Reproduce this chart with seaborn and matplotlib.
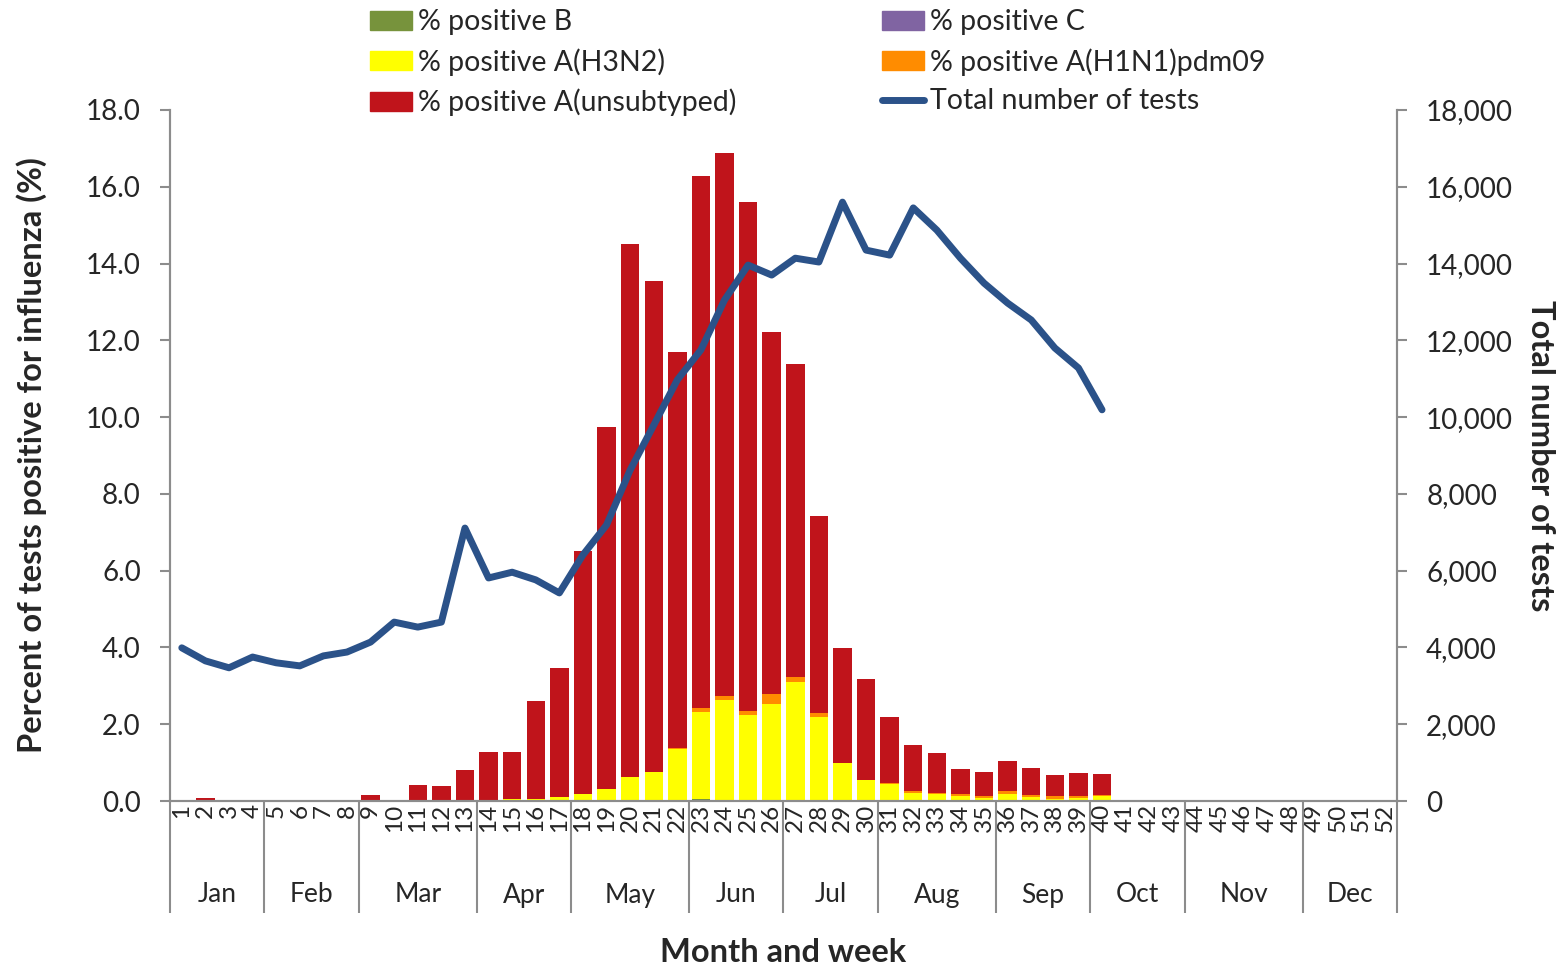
import numpy as np
import pandas as pd
import matplotlib
matplotlib.use("Agg")
import matplotlib.pyplot as plt
from matplotlib.patches import Patch
from matplotlib.lines import Line2D
import seaborn as sns

sns.set_style("white")
plt.rcParams['font.family'] = ['Lato', 'DejaVu Sans']

# weekly data (weeks 1-52; weeks 41-52 empty)
weeks = list(range(1, 53))
pct_b = [0]*21 + [0.03, 0.05, 0.03] + [0]*28
pct_c = [0]*52
pct_h3n2 = ([0]*13 + [0.03, 0.04, 0.05, 0.10, 0.17, 0.31, 0.62, 0.75, 1.32, 2.28, 2.60,
            2.24, 2.52, 3.11, 2.20, 0.98, 0.54, 0.45, 0.22, 0.17, 0.13, 0.09, 0.19, 0.10,
            0.05, 0.09, 0.12] + [0]*12)
pct_h1n1 = ([0, 0.01] + [0]*6 + [0.02] + [0]*12 + [0.04, 0.09, 0.11, 0.10, 0.27, 0.13,
            0.08, 0.02, 0.01, 0.02, 0.03, 0.05, 0.05, 0.04, 0.08, 0.06, 0.08, 0.04, 0.04]
            + [0]*12)
pct_total = [0, 0.08, 0, 0, 0, 0, 0, 0, 0.15, 0, 0.42, 0.40, 0.82, 1.28, 1.28, 2.60,
             3.47, 6.52, 9.75, 14.50, 13.55, 11.70, 16.27, 16.88, 15.60, 12.22, 11.38,
             7.42, 3.98, 3.18, 2.20, 1.46, 1.24, 0.84, 0.76, 1.04, 0.85, 0.67, 0.73,
             0.71] + [0]*12
total_tests = [3990, 3650, 3470, 3750, 3600, 3520, 3780, 3880, 4140, 4660, 4530, 4660,
               7110, 5810, 5960, 5760, 5420, 6410, 7190, 8620, 9790, 10970, 11750,
               13050, 13960, 13700, 14140, 14040, 15600, 14350, 14220, 15450, 14870,
               14140, 13490, 12970, 12530, 11800, 11280, 10190]

months = ['Jan', 'Feb', 'Mar', 'Apr', 'May', 'Jun', 'Jul', 'Aug', 'Sep', 'Oct', 'Nov', 'Dec']
month_weeks = [4, 4, 5, 4, 5, 4, 4, 5, 4, 4, 5, 4]

c_b, c_c, c_h3, c_h1, c_un = '#77933c', '#8064a2', '#ffff00', '#ff8c00', '#c0141b'
c_line = '#2b5289'
gray = '#8c8c8c'

# cumulative stacks (bottom -> top: B, C, H3N2, H1N1, unsubtyped)
df = pd.DataFrame({'week': [str(w) for w in weeks]})
df['b'] = pct_b
df['bc'] = df['b'] + np.array(pct_c)
df['bch3'] = df['bc'] + np.array(pct_h3n2)
df['bch3h1'] = df['bch3'] + np.array(pct_h1n1)
df['all'] = np.maximum(pct_total, df['bch3h1'])

fig = plt.figure(figsize=(15.66, 9.69), dpi=100)
ax = fig.add_axes([170/1566, 1 - 801/969, 1227/1566, 691/969])

for col, colr in [('all', c_un), ('bch3h1', c_h1), ('bch3', c_h3), ('bc', c_c), ('b', c_b)]:
    sns.barplot(data=df, x='week', y=col, color=colr, saturation=1, width=0.78,
                linewidth=0, errorbar=None, ax=ax)

ax.set_xlim(-0.5, 51.5)
ax.set_ylim(0, 18)
ax.set_yticks(np.arange(0, 18.1, 2))
ax.set_yticklabels([f'{v:.1f}' for v in np.arange(0, 18.1, 2)], fontsize=20)
ax.set_ylabel('Percent of tests positive for influenza (%)', fontsize=23.5,
              fontweight='bold', labelpad=28)
ax.set_xlabel('')

# week tick labels + separators
ax.set_xticks(range(52))
ax.set_xticklabels([str(w) for w in weeks], rotation=90, fontsize=17.5)
ax.tick_params(axis='x', which='major', length=0, pad=2)
ax.set_xticks(np.arange(-0.5, 52, 1), minor=True)
ax.tick_params(axis='x', which='minor', length=38, width=1.5, color=gray)
ax.tick_params(axis='y', which='major', length=7, width=1.5, color=gray, direction='out',
               pad=14)

for s in ['left', 'right', 'bottom']:
    ax.spines[s].set_color(gray)
    ax.spines[s].set_linewidth(1.5)
ax.spines['top'].set_visible(False)

# month separators and labels
trans = ax.get_xaxis_transform()
bounds = np.concatenate([[0], np.cumsum(month_weeks)]) - 0.5
ax.vlines(bounds, -112/691, 0, transform=trans, colors=gray, linewidth=1.5, clip_on=False)
for m, lo, hi in zip(months, bounds[:-1], bounds[1:]):
    ax.text((lo + hi) / 2, -94/691, m, transform=trans, ha='center', va='center', fontsize=19)
ax.text(0.5, -152/691, 'Month and week', transform=ax.transAxes, ha='center', va='center',
        fontsize=23.5, fontweight='bold')

# total tests line on secondary axis
ax2 = ax.twinx()
sns.lineplot(x=list(range(len(total_tests))), y=total_tests, color=c_line, linewidth=5,
             ax=ax2)
ax2.set_ylim(0, 18000)
ax2.set_yticks(range(0, 18001, 2000))
ax2.set_yticklabels([f'{v:,}' for v in range(0, 18001, 2000)], fontsize=20)
ax2.tick_params(axis='y', length=7, width=1.5, color=gray, direction='out', pad=14)
ax2.set_ylabel('Total number of tests', fontsize=23.5, fontweight='bold', rotation=270,
               labelpad=30)
for s in ['left', 'right', 'bottom']:
    ax2.spines[s].set_color(gray)
    ax2.spines[s].set_linewidth(1.5)
ax2.spines['top'].set_visible(False)
ax2.set_xlim(-0.5, 51.5)

handles = [Patch(color=c_b), Patch(color=c_h3), Patch(color=c_un),
           Patch(color=c_c), Patch(color=c_h1), Line2D([], [], color=c_line, linewidth=5)]
labels = ['% positive B', '% positive A(H3N2)', '% positive A(unsubtyped)',
          '% positive C', '% positive A(H1N1)pdm09', 'Total number of tests']
fig.legend(handles, labels, loc='upper left', bbox_to_anchor=(347/1566, 1.014), ncol=2,
           frameon=False, fontsize=20.5, handlelength=1.5, handleheight=0.65,
           handletextpad=0.2, labelspacing=0.45, columnspacing=5.1, borderpad=0.3)

fig.savefig('out.png', dpi=100)
